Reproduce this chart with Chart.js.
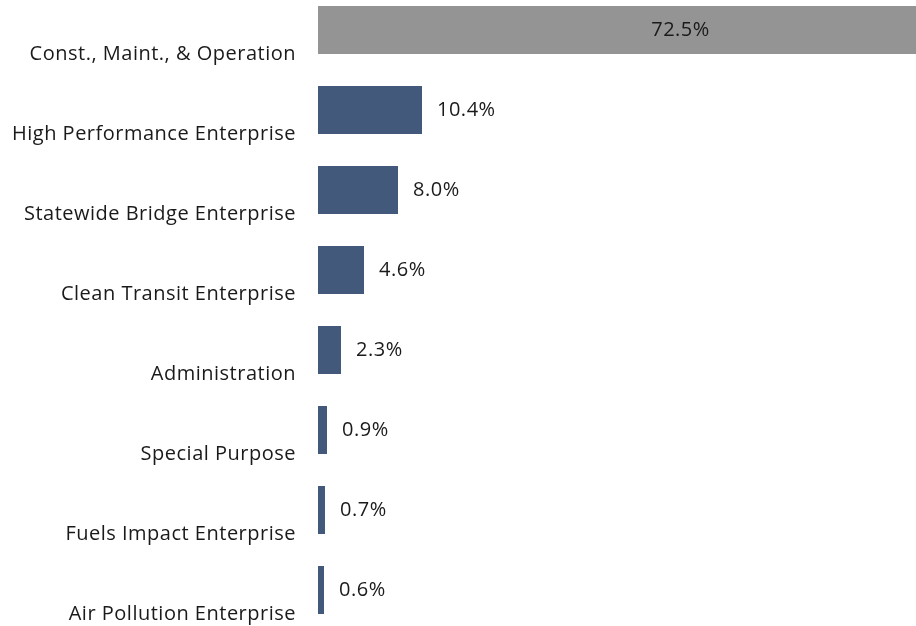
<!DOCTYPE html>
<html>
<head>
<meta charset="utf-8">
<script src="https://cdn.jsdelivr.net/npm/chart.js@4"></script>
<style>
  html, body { margin: 0; padding: 0; background: #ffffff; }
  #wrap { width: 916px; height: 626px; }
</style>
</head>
<body>
<div id="wrap"><canvas id="budget-chart"></canvas></div>
<script>
// Share of budget by program
const programs = [
    'Const., Maint., & Operation',
    'High Performance Enterprise',
    'Statewide Bridge Enterprise',
    'Clean Transit Enterprise',
    'Administration',
    'Special Purpose',
    'Fuels Impact Enterprise',
    'Air Pollution Enterprise'
];
const shares = [72.5, 10.4, 8.0, 4.6, 2.3, 0.9, 0.7, 0.6];
const barColors = ['#949494', '#43597c', '#43597c', '#43597c', '#43597c', '#43597c', '#43597c', '#43597c'];

const FONT = '"Open Sans", "Noto Sans", sans-serif';
const FONT_SIZE = 20;
const TEXT_COLOR = '#1a1a1a';

// a touch wider lettering for all canvas text
const letterSpacing = {
    id: 'letterSpacing',
    beforeDraw(chart) {
        chart.ctx.letterSpacing = '0.5px';
    }
};

// Value labels: inside (centered) for the big bar, just past the end for the rest
const valueLabels = {
    id: 'valueLabels',
    afterDatasetsDraw(chart) {
        const ctx = chart.ctx;
        const meta = chart.getDatasetMeta(0);
        ctx.save();
        ctx.font = FONT_SIZE + 'px ' + FONT;
        ctx.fillStyle = TEXT_COLOR;
        ctx.textBaseline = 'middle';
        meta.data.forEach(function(bar, i) {
            const text = shares[i].toFixed(1) + '%';
            if (bar.x > chart.chartArea.right) {
                ctx.textAlign = 'center';
                ctx.fillText(text, (bar.base + bar.x) / 2, bar.y);
            } else {
                ctx.textAlign = 'left';
                ctx.fillText(text, bar.x + 15, bar.y);
            }
        });
        ctx.restore();
    }
};

const ctx = document.getElementById('budget-chart').getContext('2d');
new Chart(ctx, {
    type: 'bar',
    data: {
        labels: programs,
        datasets: [{
            data: shares,
            backgroundColor: barColors,
            borderWidth: 0,
            categoryPercentage: 1,
            barPercentage: 0.6,
            clip: { left: 0, right: 0, top: false, bottom: false }
        }]
    },
    options: {
        indexAxis: 'y',
        responsive: true,
        maintainAspectRatio: false,
        animation: false,
        layout: { padding: { top: 30, bottom: 36, left: 0, right: 0 } },
        plugins: {
            legend: { display: false },
            tooltip: { enabled: false }
        },
        scales: {
            x: {
                display: false,
                min: 0,
                max: 59.8
            },
            y: {
                offset: false,
                grid: { display: false, drawTicks: false },
                border: { display: false },
                ticks: {
                    color: TEXT_COLOR,
                    font: { family: FONT, size: FONT_SIZE },
                    padding: 22,
                    labelOffset: 24
                },
                afterFit: function(scale) {
                    // fixed label column; let layout padding alone set the vertical extent
                    scale.width = 318;
                    scale.paddingTop = 0;
                    scale.paddingBottom = 0;
                }
            }
        }
    },
    plugins: [letterSpacing, valueLabels]
});
</script>
</body>
</html>
